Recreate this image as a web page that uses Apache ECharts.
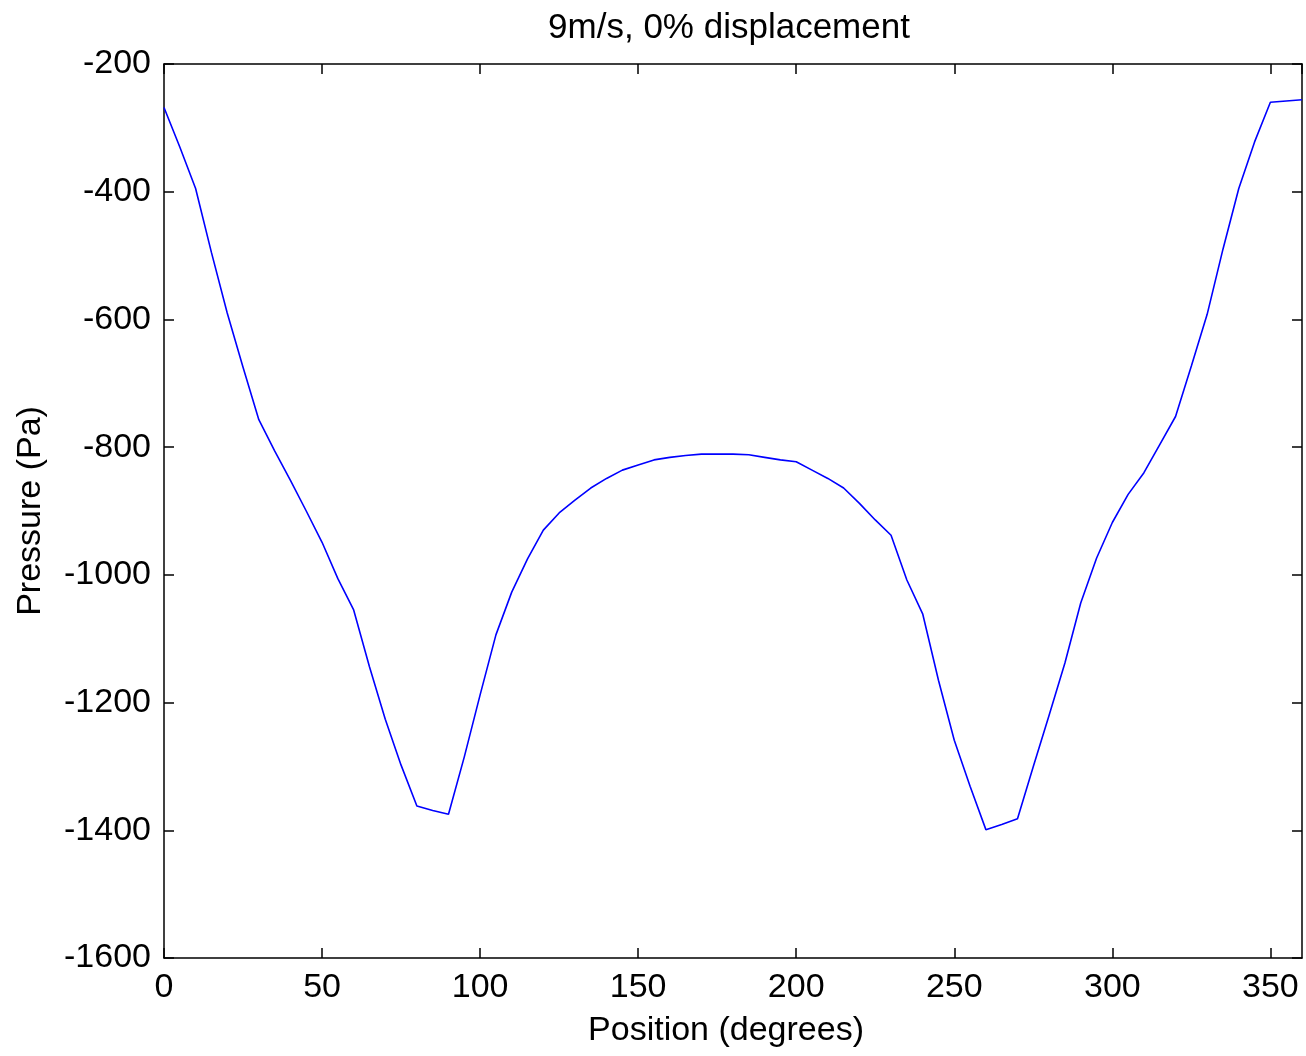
<!DOCTYPE html>
<html>
<head>
<meta charset="utf-8">
<script src="https://cdn.jsdelivr.net/npm/echarts@6/dist/echarts.min.js"></script>
<style>
  html, body { margin: 0; padding: 0; background: #fff; }
  #chart { width: 1306px; height: 1056px; }
</style>
</head>
<body>
<div id="chart"></div>
<script>
// position in degrees, every 5 deg
const positions = [0, 5, 10, 15, 20, 25, 30, 35, 40, 45, 50, 55, 60, 65, 70, 75, 80, 85, 90, 95,
  100, 105, 110, 115, 120, 125, 130, 135, 140, 145, 150, 155, 160, 165, 170, 175, 180, 185, 190, 195,
  200, 205, 210, 215, 220, 225, 230, 235, 240, 245, 250, 255, 260, 265, 270, 275, 280, 285, 290, 295,
  300, 305, 310, 315, 320, 325, 330, 335, 340, 345, 350, 355, 360];
// pressure in Pa
const pressure = [-268, -330, -395, -495, -590, -675, -757, -806, -852, -900, -949, -1006, -1055, -1144, -1226, -1298, -1362, -1369, -1375, -1285,
  -1188, -1094, -1027, -975, -930, -903, -883, -864, -849, -836, -828, -820, -816, -813, -811, -811, -811, -812, -816, -820,
  -823, -836, -849, -864, -888, -914, -938, -1008, -1061, -1165, -1259, -1331, -1399, -1391, -1382, -1300, -1220, -1138, -1044, -974,
  -918, -874, -840, -796, -752, -673, -592, -490, -395, -322, -260, -258, -256];

const font = "Liberation Sans";
const chart = echarts.init(document.getElementById("chart"));

const frameLine = { show: true, onZero: false, lineStyle: { color: "#000", width: 1.5 } };
const innerTick = { show: true, inside: true, length: 10, lineStyle: { color: "#000", width: 1.5 } };

chart.setOption({
  animation: false,
  backgroundColor: "#fff",
  title: {
    text: "9m/s, 0% displacement",
    left: 724,
    textAlign: "center",
    top: 6,
    textStyle: { fontFamily: font, fontSize: 35, fontWeight: "normal", color: "#000" },
  },
  grid: { left: 164, top: 64, right: 4, bottom: 98 },
  xAxis: [
    {
      type: "value",
      min: 0,
      max: 360,
      interval: 50,
      name: "Position (degrees)",
      nameLocation: "middle",
      nameGap: 56,
      nameTextStyle: { fontFamily: font, fontSize: 34, color: "#000", verticalAlign: "top", padding: [0, 14, 0, 0] },
      axisLine: frameLine,
      axisTick: innerTick,
      axisLabel: { fontFamily: font, fontSize: 34, color: "#000", margin: 13, showMaxLabel: false },
      splitLine: { show: false },
    },
    {
      type: "value",
      position: "top",
      min: 0,
      max: 360,
      interval: 50,
      axisLine: frameLine,
      axisTick: innerTick,
      axisLabel: { show: false },
      splitLine: { show: false },
    },
  ],
  yAxis: [
    {
      type: "value",
      min: -1600,
      max: -200,
      interval: 200,
      name: "Pressure (Pa)",
      nameLocation: "middle",
      nameGap: 116,
      nameTextStyle: { fontFamily: font, fontSize: 34, color: "#000" },
      axisLine: frameLine,
      axisTick: innerTick,
      axisLabel: { fontFamily: font, fontSize: 34, color: "#000", margin: 13, formatter: (v) => String(v) },
      splitLine: { show: false },
    },
    {
      type: "value",
      position: "right",
      min: -1600,
      max: -200,
      interval: 200,
      axisLine: frameLine,
      axisTick: innerTick,
      axisLabel: { show: false },
      splitLine: { show: false },
    },
  ],
  series: [
    {
      type: "line",
      data: positions.map((p, i) => [p, pressure[i]]),
      showSymbol: false,
      lineStyle: { color: "#0000ff", width: 1.6 },
      itemStyle: { color: "#0000ff" },
    },
  ],
});
</script>
</body>
</html>
